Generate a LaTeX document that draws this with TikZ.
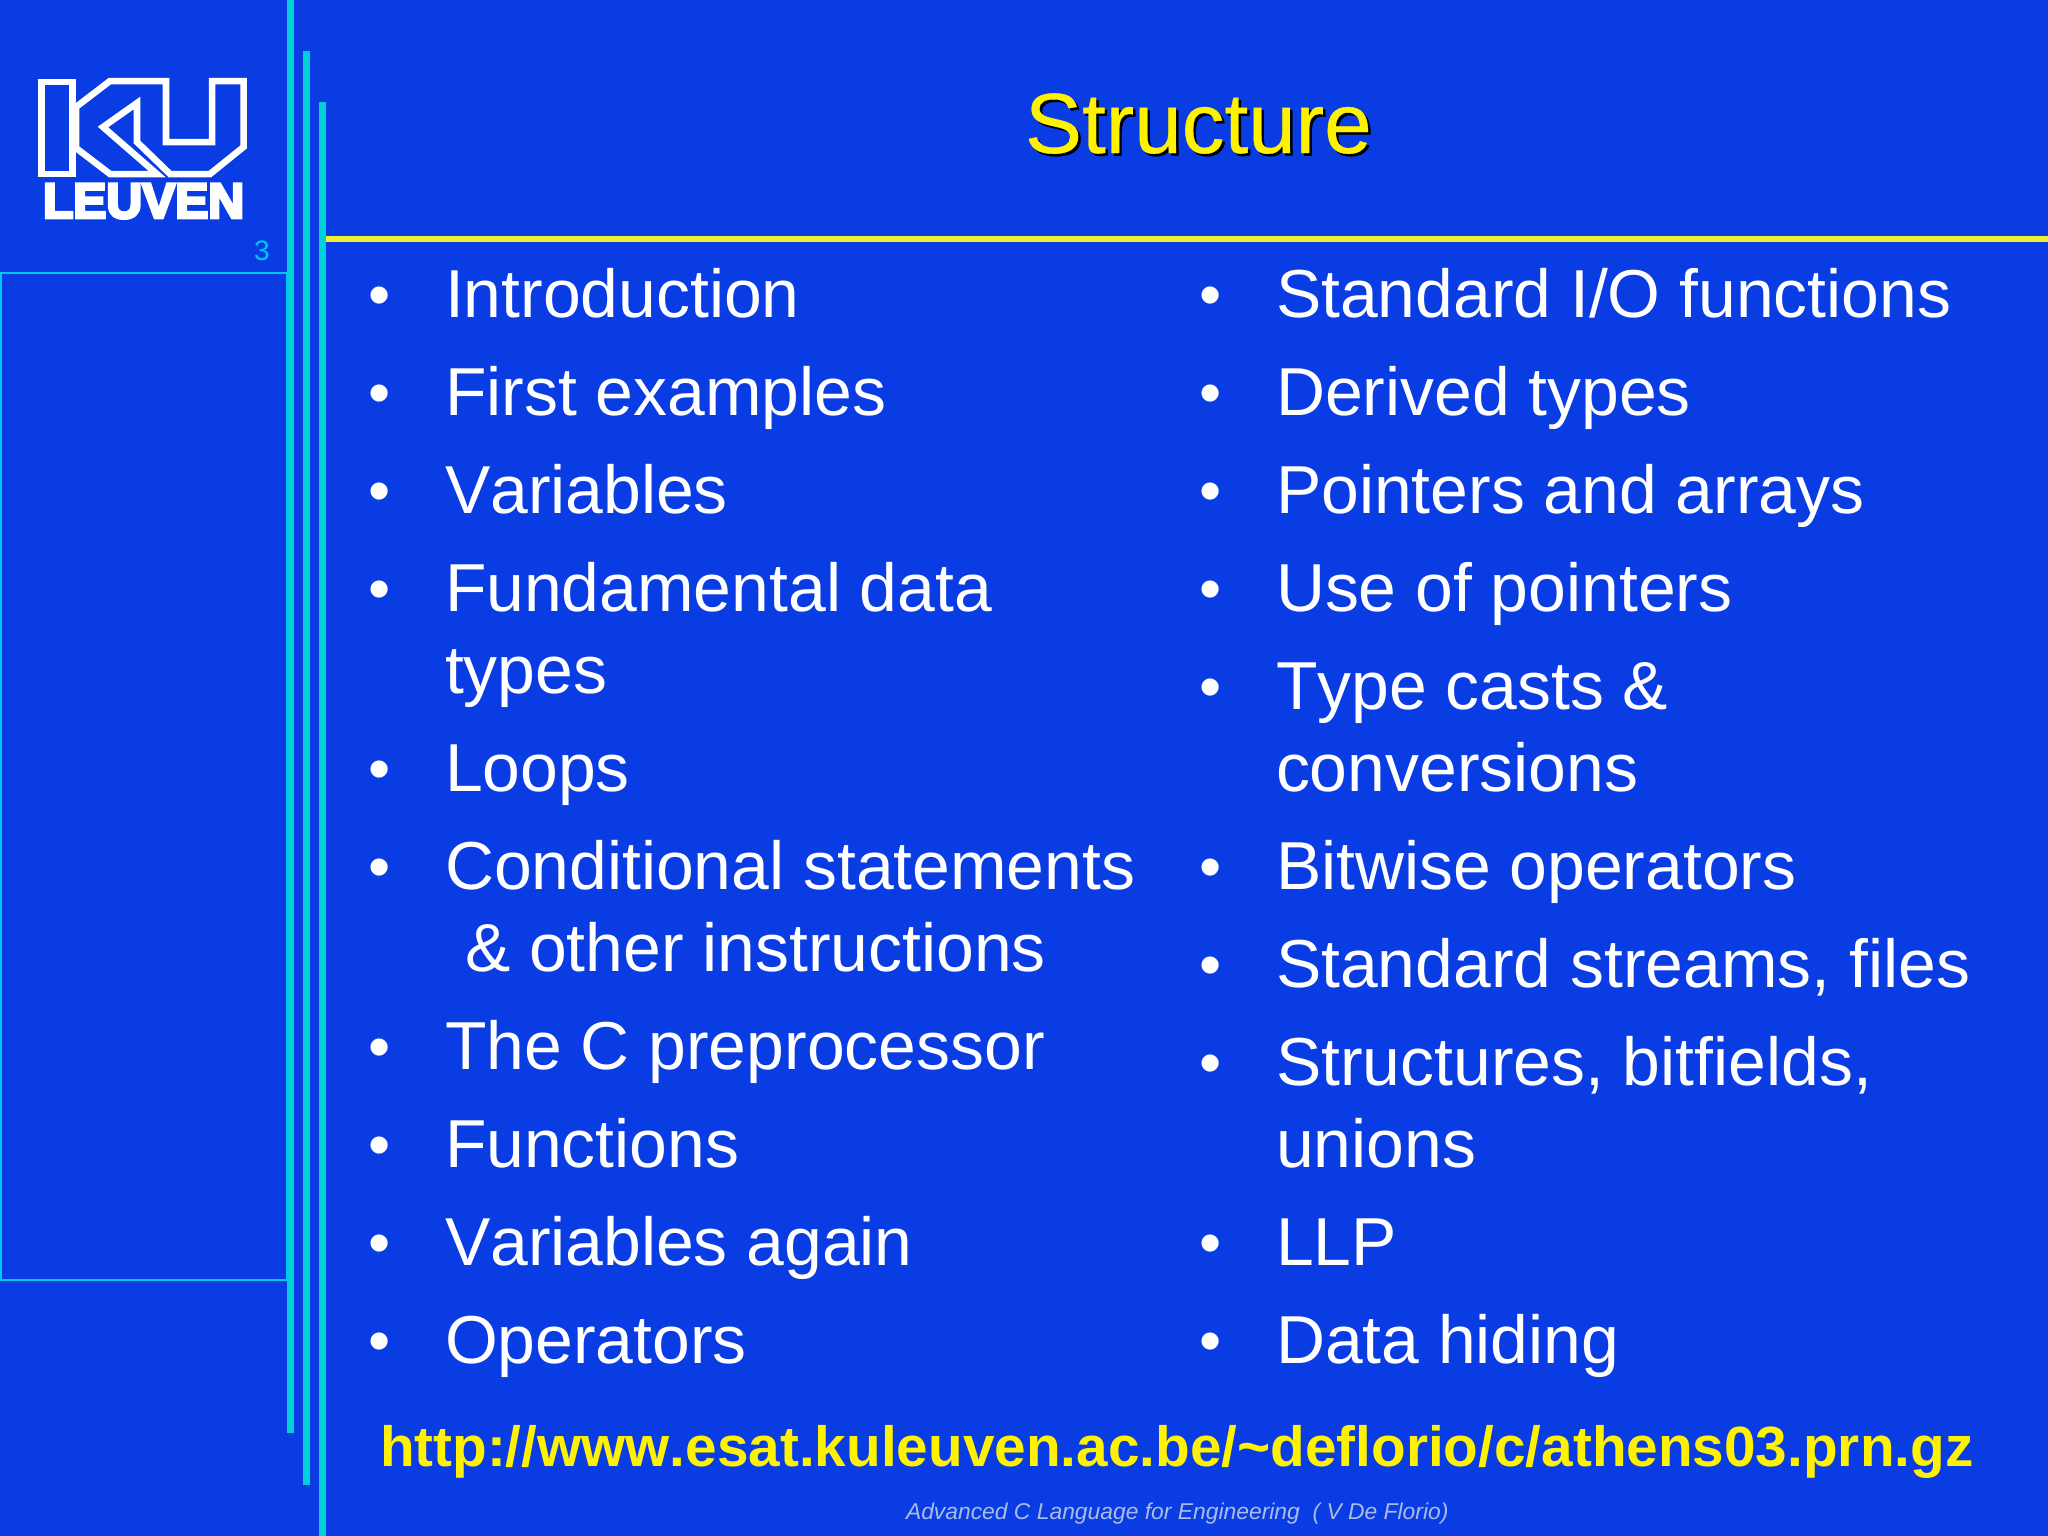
\documentclass[tikz,border=0pt]{standalone}
\usepackage{fontspec}
\setmainfont[Kerning=Off]{Liberation Sans}
\newfontfamily\logofont[FakeBold=6]{Liberation Sans Bold}
\newfontfamily\titlefont[Kerning=Off,FakeBold=0.4]{Liberation Sans}
\definecolor{bgblue}{RGB}{9,60,226}
\definecolor{barcyan}{RGB}{0,208,216}
\definecolor{thincyan}{RGB}{0,200,240}
\definecolor{rule}{RGB}{240,240,48}
\definecolor{foot}{RGB}{170,188,232}
\tikzset{
  x=0.01cm,y=-0.01cm,
  txt/.style={anchor=base west,inner sep=0pt,outer sep=0pt},
  item/.style={txt,text=white,font=\fontsize{19.3}{23}\selectfont},
  bul/.style={anchor=base,inner sep=0pt,outer sep=0pt,text=white,font=\fontsize{18}{23}\selectfont},
  bar/.style={fill=barcyan,draw=none},
}
\begin{document}
\begin{tikzpicture}
\useasboundingbox (0,0) rectangle (2048,1536);
\fill[bgblue] (0,0) rectangle (2048,1536);
% bars
\fill[bar] (287,0) rectangle (293.5,1433);
\fill[bar] (303,51) rectangle (309.5,1485);
\fill[bar] (319,102) rectangle (325.5,1536);
\fill[rule] (325.5,236) rectangle (2048,241.7);
\draw[thincyan,line width=0.15mm] (1,273) rectangle (287,1280);
% logo
\draw[white,line width=0.065cm,line join=miter] (41.5,82) rectangle (72.5,174);
\draw[white,line width=0.065cm,line join=miter]
  (76,107) -- (110,81) -- (166,81) -- (166,142) -- (212,142) -- (212,81) -- (243.5,81) -- (243.5,147)
  -- (210,174) -- (170,174) -- (137,142) -- (137,103) -- (103,127) -- (157,174) -- (110,174) -- (76,148) -- cycle;
\node[txt,text=white] (leuven) at (43,218) {\logofont\fontsize{14.1}{17}\selectfont LEUVEN};
\node[anchor=center,inner sep=0pt,text=thincyan,font=\fontsize{8}{10}\selectfont] (pagenum) at (262,251) {3};
% title
\node[txt,text=black,font=\titlefont\fontsize{24.3}{28}\selectfont] (titleshadow) at (1027.5,155.5) {Structure};
\node[txt,text=yellow,font=\titlefont\fontsize{24.3}{28}\selectfont] (title) at (1025,153) {Structure};
% left column
\foreach \n/\y in {1/316,2/414,3/512,4/610,5/790,6/888,7/1068,8/1166,9/1264,10/1362}
  \node[bul] (lb\n) at (379.5,\y) {•};
\node[item] (l1) at (445,317) {Introduction};
\node[item] (l2) at (445,415) {First examples};
\node[item] (l3) at (445,513) {Variables};
\node[item] (l4a) at (445,611) {Fundamental data};
\node[item] (l4b) at (445,693) {types};
\node[item] (l5) at (445,791) {Loops};
\node[item] (l6a) at (445,889) {Conditional statements};
\node[item] (l6b) at (465,971) {\& other instructions};
\node[item] (l7) at (445,1069) {The C preprocessor};
\node[item] (l8) at (445,1167) {Functions};
\node[item] (l9) at (445,1265) {Variables again};
\node[item] (l10) at (445,1363) {Operators};
% right column
\foreach \n/\y in {1/316,2/414,3/512,4/610,5/708,6/888,7/986,8/1084,9/1264,10/1362}
  \node[bul] (rb\n) at (1210.5,\y) {•};
\node[item] (r1) at (1276,317) {Standard I/O functions};
\node[item] (r2) at (1276,415) {Derived types};
\node[item] (r3) at (1276,513) {Pointers and arrays};
\node[item] (r4) at (1276,611) {Use of pointers};
\node[item] (r5a) at (1276,709) {Type casts \&};
\node[item] (r5b) at (1276,791) {conversions};
\node[item] (r6) at (1276,889) {Bitwise operators};
\node[item] (r7) at (1276,987) {Standard streams, files};
\node[item] (r8a) at (1276,1085) {Structures, bitfields,};
\node[item] (r8b) at (1276,1167) {unions};
\node[item] (r9) at (1276,1265) {LLP};
\node[item] (r10) at (1276,1363) {Data hiding};
% url and footer
\node[txt,text=yellow,font=\fontsize{16.13}{20}\bfseries\selectfont] (url) at (380,1466) {http://www.esat.kuleuven.ac.be/\char`\~deflorio/c/athens03.prn.gz};
\node[txt,text=foot,font=\fontsize{6.5}{9}\itshape\selectfont] (footer) at (906,1519) {Advanced C Language for Engineering\ \ ( V De Florio)};
\end{tikzpicture}
\end{document}
